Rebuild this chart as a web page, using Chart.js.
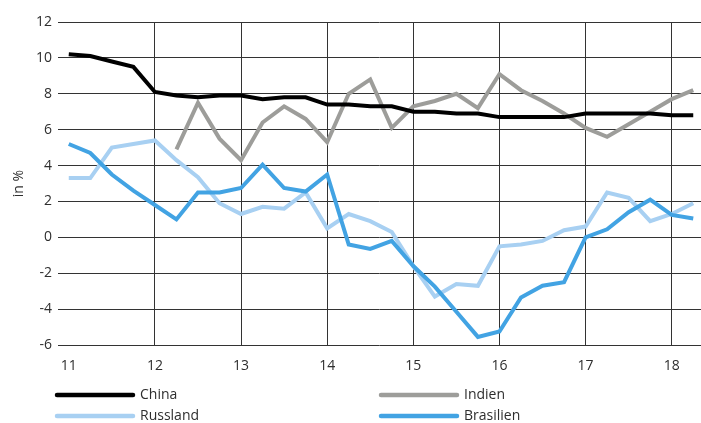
<!DOCTYPE html>
<html>
<head>
<meta charset="utf-8">
<script src="https://cdn.jsdelivr.net/npm/chart.js@4"></script>
<style>
  html, body { margin: 0; padding: 0; background: #fff; }
  #wrap { position: relative; width: 701px; height: 423px; }
</style>
</head>
<body>
<div id="wrap"><canvas id="c" width="701" height="423"></canvas></div>
<script>
// Quarterly GDP growth, year on year, in %
const quarters = [
  11.0, 11.25, 11.5, 11.75, 12.0, 12.25, 12.5, 12.75,
  13.0, 13.25, 13.5, 13.75, 14.0, 14.25, 14.5, 14.75,
  15.0, 15.25, 15.5, 15.75, 16.0, 16.25, 16.5, 16.75,
  17.0, 17.25, 17.5, 17.75, 18.0, 18.25
];
const yearTicks = [11, 12, 13, 14, 15, 16, 17, 18];

const china = [
  10.2, 10.1, 9.8, 9.5, 8.1, 7.9, 7.8, 7.9,
  7.9, 7.7, 7.8, 7.8, 7.4, 7.4, 7.3, 7.3,
  7.0, 7.0, 6.9, 6.9, 6.7, 6.7, 6.7, 6.7,
  6.9, 6.9, 6.9, 6.9, 6.8, 6.8
];
const indien = [
  null, null, null, null, null, 4.9, 7.5, 5.5,
  4.3, 6.4, 7.3, 6.6, 5.3, 8.0, 8.8, 6.1,
  7.3, 7.6, 8.0, 7.2, 9.1, 8.2, 7.6, 6.9,
  6.1, 5.6, 6.3, 7.0, 7.7, 8.2
];
const russland = [
  3.3, 3.3, 5.0, 5.2, 5.4, 4.3, 3.35, 1.9,
  1.3, 1.7, 1.6, 2.5, 0.5, 1.3, 0.9, 0.3,
  -1.6, -3.3, -2.6, -2.7, -0.5, -0.4, -0.2, 0.4,
  0.6, 2.5, 2.2, 0.9, 1.3, 1.9
];
const brasilien = [
  5.2, 4.7, 3.5, 2.6, 1.8, 1.0, 2.5, 2.5,
  2.75, 4.05, 2.75, 2.55, 3.5, -0.4, -0.65, -0.2,
  -1.6, -2.75, -4.15, -5.55, -5.25, -3.35, -2.7, -2.5,
  0.0, 0.45, 1.4, 2.1, 1.25, 1.05
];

const seriesNames = ['China', 'Indien', 'Russland', 'Brasilien'];
const seriesColors = ['#000000', '#9d9d9a', '#a8d0f2', '#42a3e3'];
const seriesValues = [china, indien, russland, brasilien];

const FONT = '"Open Sans", "DejaVu Sans", sans-serif';
const TEXT = '#2e2e2e';
const GRID = '#333333';

const toPoints = vals => quarters.map((q, i) => ({ x: q, y: vals[i] }));

// Two-column legend under the plot
const legendPlugin = {
  id: 'twoColLegend',
  afterDraw(chart) {
    const ctx = chart.ctx;
    const cols = [57, 381];
    const rows = [395, 416];
    ctx.save();
    ctx.font = '14px ' + FONT;
    ctx.textBaseline = 'middle';
    ctx.textAlign = 'left';
    chart.data.datasets.forEach((ds, i) => {
      const x = cols[i % 2];
      const y = rows[Math.floor(i / 2)];
      ctx.strokeStyle = ds.borderColor;
      ctx.lineWidth = 4.5;
      ctx.lineCap = 'round';
      ctx.beginPath();
      ctx.moveTo(x, y);
      ctx.lineTo(x + 76, y);
      ctx.stroke();
      ctx.fillStyle = TEXT;
      ctx.fillText(ds.label, x + 83, y);
    });
    ctx.restore();
  }
};

const datasets = seriesNames.map((name, i) => ({
  label: name,
  data: toPoints(seriesValues[i]),
  borderColor: seriesColors[i],
  backgroundColor: seriesColors[i],
  borderWidth: 4,
  pointRadius: 0,
  tension: 0,
  spanGaps: false,
  borderJoinStyle: 'miter',
  order: [1, 2, 4, 3][i]
}));

new Chart(document.getElementById('c'), {
  type: 'line',
  data: { datasets },
  plugins: [legendPlugin],
  options: {
    responsive: false,
    animation: false,
    events: [],
    layout: { padding: { top: 22, right: 0, bottom: 47, left: 0 } },
    plugins: {
      legend: { display: false },
      tooltip: { enabled: false }
    },
    scales: {
      x: {
        type: 'linear',
        min: 10.875,
        max: 18.34,
        afterBuildTicks: axis => { axis.ticks = yearTicks.map(v => ({ value: v })); },
        afterFit: axis => { axis.height = 31; },
        border: { display: false },
        grid: {
          color: c => (c.tick && c.tick.value === 11 ? 'rgba(0,0,0,0)' : GRID),
          lineWidth: 1,
          drawTicks: false
        },
        ticks: {
          color: TEXT,
          font: { family: FONT, size: 14 },
          padding: 13,
          maxRotation: 0,
          callback: v => String(v)
        }
      },
      y: {
        min: -6,
        max: 12,
        afterFit: axis => { axis.width = 58; },
        border: { display: false },
        grid: { color: GRID, lineWidth: 1, drawTicks: false },
        ticks: {
          stepSize: 2,
          color: TEXT,
          font: { family: FONT, size: 14 },
          padding: 6
        },
        title: {
          display: true,
          text: 'in %',
          color: TEXT,
          font: { family: FONT, size: 14 },
          padding: { top: 11, bottom: 0 }
        }
      }
    }
  }
});
</script>
</body>
</html>
